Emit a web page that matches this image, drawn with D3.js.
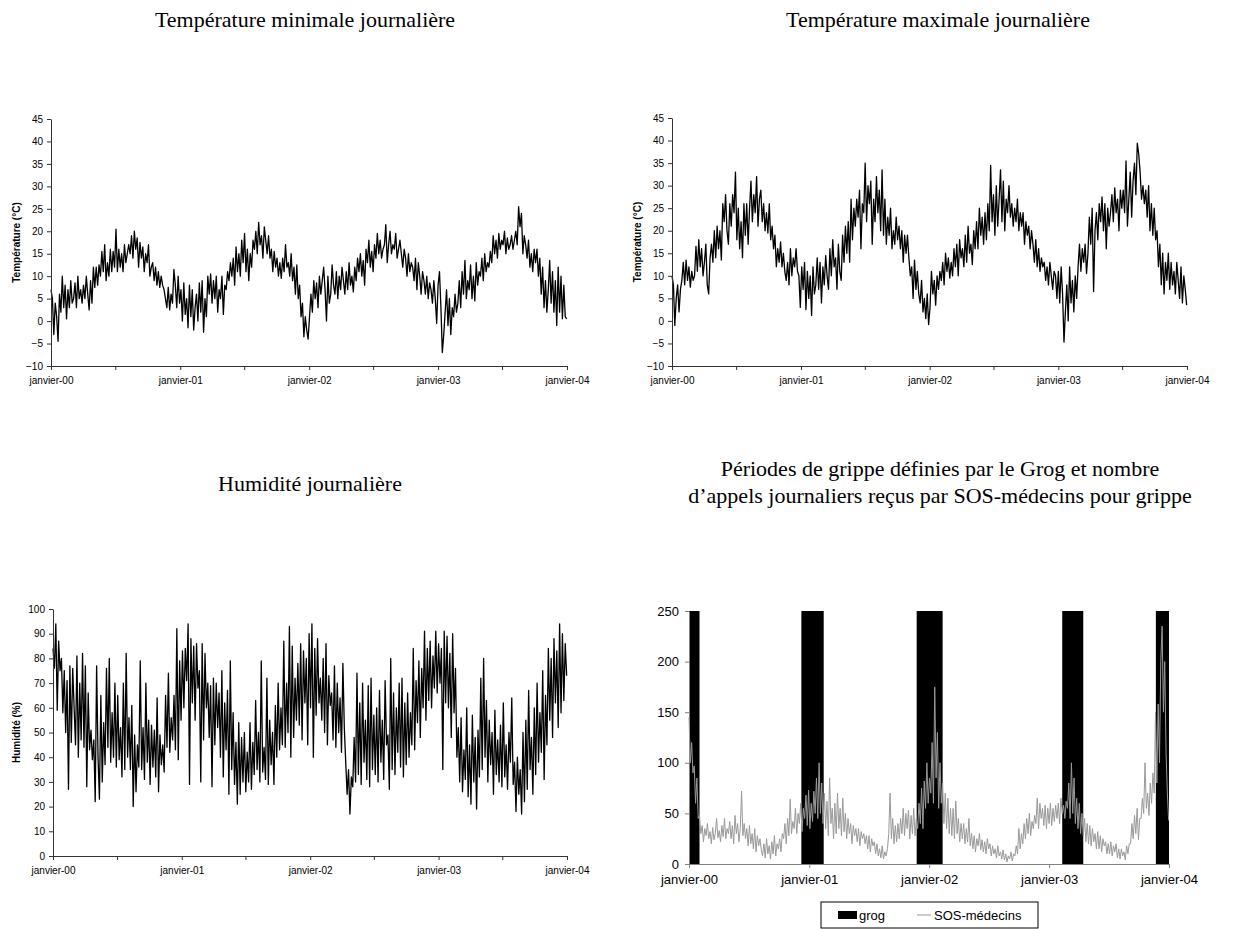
<!DOCTYPE html>
<html><head><meta charset="utf-8">
<script src="https://cdn.jsdelivr.net/npm/d3@7"></script>
<style>body{margin:0;background:#fff}svg{display:block}</style>
</head><body>
<svg id="c" width="1251" height="929"></svg>
<script>
// ---------- DATA (one value every 4 days, from 1 Jan 2000) ----------
const startDate = new Date(2000, 0, 1);
const endDate = new Date(2004, 0, 1);
const stepDays = 4;

const tmin = [
7,5,-3,4,1,-4.5,6,2, 10,3,8,0.5,7,3,9,4, 5,8.5,3,10,5,7,4,8, 5,10,6,2.5,9,4,12,7.5,
12,8,12.5,10,15.5,11,17,9, 13,10,16,11,15.5,12,20.5,11, 16,12,15,11,17,13,15,17, 15,19,14,20,16,18.5,12,17.5,
14,16.5,11,15,13,17,10,12, 13,9,12,8,11,7.5,10,8, 7,5,3,7.5,2.5,6,4,11.5, 8,3,10,4,7,0,8.5,1.5,
5,-1.5,8,1,7,-2,3,6, 0,8.5,2,9,-2.5,5,1,10, 6,10.5,4,9,5,10,2,7, 5,10,1.5,8,7,11,9,13,
10,14,8,16.5,11,15,10,18, 13,19.5,11,16,9,15,12,18, 16,20,15,22,17,19,14,21, 18,15,19,14,16,11,15.5,12,
14,10,13,9.5,14,11,17,12, 13,10,15,9,12,6,12.5,5, 8,1,4,-3.5,1,-2,-4,1, 6,2,9,5,8.5,3,10,6,
9,12,7,0,10,4,6,12.5, 8,6,11,5,10,7,12,9, 6,11,7,13,8,10,6.5,12, 9,14,11,15,10,13.5,8,16,
13,18,12,15.5,11,17,14,19.5, 15,18,14,16,17,21.5,13,17, 20,15,17,16,19.5,14,16,18, 15,12,16,14,10,15,11,13,
12,9,14,7,13,10,6,11, 9,6,10,5,8.5,7,4,9, 5,-0.5,8,11,3,-7,-3,2, 7,-1,5,-3,3,1,6,2,
4,9,3,11,6,13.5,5,9, 7,12.5,5,10,4.5,13,8,11, 10,14,9,15,11,13,12,15.5, 13,19,15,18,14,19.5,16,18,
17,20,15,18.5,16,17,19,16, 18,20,17,25.5,21,24,15,19, 17,14,18,12,15,11,16,13, 16,10,14,6,12,3,9,2,
7,13.5,4,11,2,9,-1,12, 2,10,0.5,8,1,0.5
];

const tmax = [
10,8,-1,5,8,2,7,9, 13,8,13.5,9,12,7.5,11,9, 10,16.5,11,18,12,16,10,13, 17,8,6,14,17,13,20,14,
21,16,20,13.5,26,22,28,20, 17,26,21,28,24,33,18,25, 16,22,14,26,19,26,17,25, 31,22,28,24,32,21,27,29,
22,26,20,24,19.5,26,18,21, 16,19,12,16,13,17.5,12,15, 11,9,13,8,16,10,14,12, 16,11,10,3,12,7,13,2.5,
11,5,10,1.2,12,6,8,14, 7,13,4,12,8,14.5,10,7, 16,10,18,12,14,7,17,11, 9,19,13,21,15,22,13,27,
18,25,21,27,23,29,16,26, 24,35,22,30,26,31,17,27, 22,32,24,29,20,33.5,19,27, 17,23,19,25,16,20,17,23,
18,21,16,20,13,19,15,19, 14,10,12,5,13.5,7,11,6, 4,9,2,5,0.5,6,-0.8,3, 11,6,9,3.5,10,7,11,9,
13,8,15,11,14,9.5,13,10, 16,12,17,10,18,14,16,12, 19,13,21,15,17,12.5,20,16, 22,16,25,19,23,17,24,18,
26,20,34.5,22,28,19,30,21, 27,33.5,22,31,20,27,24,30, 23,26,21,25,22,27,20,24, 21,24,17,22,19,21,16,20,
17,13,18,12,16,11,14,12, 13,9,12,8,13,10,7,11, 10,5,11,4,12,6,-4.7,2, 8,0,12,4,9,2,10,5,
12,17,11,16,13,17,10.5,15, 23,17,25,6.5,20,24,18,26, 22,27.5,20,26,16,25,21,24, 28,22,29.5,24,27,20,29,25,
29,24,35.5,21,27,33,23,31, 35,28,39.4,37,33,27,30,26, 29,23,30,20,26,19,25,18, 20,12,17,8,15,6,13,9,
15,7,13,8,11,6,13,9, 5,12,4,10,7,3.5
];

const humidity = [
84,76,94,59,87,75,80,58, 75,50,71,27,77,46,76,60, 45,81,40,70,47,82,44,77, 28,66,43,51,39,47,22,77,
40,23,65,30,54,37,76,44, 80,38,58,40,70,36,65,39, 52,32,70,35,82,40,56,35, 61,20,49,26,45,36,79,35,
52,31,70,38,55,29,53,36, 51,32,64,26,49,37,45,34, 65,44,74,42,56,47,65,43, 92,39,79,55,83,60,84,71,
94,29,88,62,85,55,86,68, 75,30,86,47,82,60,70,48, 69,28,72,45,70,52,66,40, 75,32,62,43,67,25,79,35,
58,29,46,21,54,25,48,30, 50,26,42,30,54,27,46,33, 63,35,50,30,79,34,44,31, 72,29,55,37,50,29,61,40,
70,43,60,45,87,44,70,50, 93,40,85,48,72,55,78,53, 86,47,83,62,80,45,90,60, 94,40,84,57,88,62,72,55,
80,50,86,45,73,61,66,47, 77,44,70,50,64,42,78,52, 38,25,35,17,32,28,48,30, 74,33,62,29,70,38,55,31,
69,28,72,35,57,33,60,30, 67,38,55,31,71,45,49,27, 80,35,66,33,60,42,70,36, 72,32,62,37,66,40,58,45,
84,43,71,54,79,48,76,60, 91,55,84,63,87,60,81,68, 91,66,86,70,84,35,91,62, 89,60,82,48,90,58,76,40,
52,30,56,26,43,31,60,24, 45,21,57,30,48,19,51,32, 72,35,80,40,63,30,55,37, 50,25,59,33,47,30,53,28,
62,32,45,27,50,38,64,29, 38,18,40,25,35,17,50,22, 55,27,67,35,48,25,60,33, 70,38,58,42,75,31,65,45,
84,55,80,48,88,62,83,52, 94,58,90,63,86,73
];

const sosCalls = [
145,100,120,90,97,60,85,45, 48,30,38,22,35,28,40,25, 32,20,36,24,30,45,26,33, 22,38,27,45,25,35,30,42,
25,38,20,48,30,40,22,35, 72,28,40,25,35,18,38,20, 30,15,35,12,28,18,25,14, 8,20,6,25,10,18,5,22,
10,28,8,20,15,25,12,30, 25,40,20,45,28,64,30,42, 35,55,30,50,40,60,32,55, 45,68,38,73,35,60,42,72,
50,85,45,100,50,80,40,70, 35,62,28,85,40,55,25,60, 30,70,35,55,28,65,32,50, 25,45,30,40,20,38,28,35,
22,35,18,32,25,30,20,28, 15,28,12,25,18,22,10,20, 8,15,6,18,5,12,8,15, 30,70,25,45,20,38,22,40,
25,45,30,55,28,50,35,53, 25,48,30,55,28,45,35,60, 40,75,35,82,55,100,60,85, 70,120,60,175,85,130,55,100,
60,80,40,70,35,65,30,55, 28,55,25,62,30,45,22,40, 25,40,20,35,22,45,18,30, 15,28,12,25,18,30,14,24,
12,22,10,25,15,20,8,18, 10,15,6,18,8,12,5,14, 4,10,2,8,5,12,3,10, 8,18,10,35,15,30,20,40,
25,45,30,50,28,42,35,48, 40,65,35,60,45,55,38,58, 35,55,40,60,38,55,42,58, 45,60,40,65,50,58,45,62,
55,80,45,100,50,85,40,65, 35,60,30,50,28,45,22,40, 20,38,18,35,22,30,15,32, 15,28,12,25,18,22,10,20,
10,22,8,18,12,20,6,15, 5,15,8,12,4,18,10,20, 20,40,25,48,30,55,24,45, 45,65,50,100,55,70,48,80,
60,90,70,150,80,158,100,200, 235,150,200,110,70,43
];

const grogStart = ["2000-01-01", "2000-12-08", "2001-11-24", "2003-02-10", "2003-11-22"];
const grogEnd   = ["2000-02-02", "2001-02-14", "2002-02-11", "2003-04-15", "2004-01-01"];

const tempTicks = [-10, -5, 0, 5, 10, 15, 20, 25, 30, 35, 40, 45];
const humTicks = [0, 10, 20, 30, 40, 50, 60, 70, 80, 90, 100];
const sosTicks = [0, 50, 100, 150, 200, 250];

const titles = ["Température minimale journalière", "Température maximale journalière", "Humidité journalière",
  "Périodes de grippe définies par le Grog et nombre", "d\u2019appels journaliers reçus par SOS-médecins pour grippe"];
const legendLabels = ["grog", "SOS-médecins"];

// ---------- DRAWING ----------
const svg = d3.select("#c");
const sans = "'Liberation Sans', Arial, sans-serif";
const serif = "'Liberation Serif', 'Times New Roman', serif";
const parse = d3.timeParse("%Y-%m-%d");
const dateAt = i => d3.timeDay.offset(startDate, i * stepDays);
const janFmt = d => "janvier-" + d3.timeFormat("%y")(d);

function styleAxis(g, color, fs) {
  g.select(".domain").attr("stroke", color).attr("stroke-width", 1);
  g.selectAll(".tick line").attr("stroke", color);
  g.selectAll(".tick text").attr("fill", "#000").style("font-family", sans).style("font-size", fs + "px");
}

function linePanel(cfg) {
  const x = d3.scaleTime().domain([startDate, endDate]).range([cfg.x0, cfg.x1]);
  const y = d3.scaleLinear().domain(cfg.domain).range([cfg.yb, cfg.yt]);
  const g = svg.append("g");
  const line = d3.line().x((d, i) => x(dateAt(i))).y(d => y(d));
  g.append("path").datum(cfg.values).attr("d", line)
    .attr("fill", "none").attr("stroke", "#000").attr("stroke-width", 1.3).attr("stroke-linejoin", "round");
  const xa = g.append("g").attr("transform", `translate(0,${cfg.yb})`)
    .call(d3.axisBottom(x).ticks(d3.timeMonth.every(6)).tickSize(4).tickSizeOuter(0).tickPadding(7)
      .tickFormat(d => d.getMonth() === 0 ? janFmt(d) : ""));
  styleAxis(xa, "#333", 10);
  const ya = g.append("g").attr("transform", `translate(${cfg.x0},0)`)
    .call(d3.axisLeft(y).tickValues(cfg.ticks).tickSize(4).tickSizeOuter(0).tickPadding(4));
  styleAxis(ya, "#333", 10);
  g.append("text").attr("transform", `translate(${cfg.lx},${(cfg.yt + cfg.yb) / 2}) rotate(-90)`)
    .attr("text-anchor", "middle").style("font-family", sans).style("font-size", "10px")
    .style("font-weight", "bold").text(cfg.ylabel);
  g.append("text").attr("x", cfg.tx).attr("y", cfg.ty).attr("text-anchor", "middle")
    .style("font-family", serif).style("font-size", "22px").text(cfg.title);
}

linePanel({x0: 51, x1: 567, yt: 119, yb: 366, domain: [-10, 45], ticks: tempTicks, values: tmin,
  ylabel: "Température (°C)", lx: 20, title: titles[0], tx: 305, ty: 27});
linePanel({x0: 672, x1: 1187, yt: 118, yb: 366, domain: [-10, 45], ticks: tempTicks, values: tmax,
  ylabel: "Température (°C)", lx: 641, title: titles[1], tx: 938, ty: 27});
linePanel({x0: 53, x1: 567, yt: 609, yb: 856, domain: [0, 100], ticks: humTicks, values: humidity,
  ylabel: "Humidité (%)", lx: 20, title: titles[2], tx: 310, ty: 491});

// Panel D: grog periods + SOS-médecins calls
(function () {
  const x0 = 689, x1 = 1169, yt = 611, yb = 864;
  const x = d3.scaleTime().domain([startDate, endDate]).range([x0, x1]);
  const y = d3.scaleLinear().domain([0, 250]).range([yb, yt]);
  const g = svg.append("g");
  const periods = grogStart.map((s, i) => ({s: parse(s), e: parse(grogEnd[i])}));
  g.selectAll("rect.grog").data(periods).join("rect").attr("class", "grog")
    .attr("x", d => x(d.s)).attr("width", d => x(d.e) - x(d.s))
    .attr("y", y(250)).attr("height", y(0) - y(250)).attr("fill", "#000");
  const xa = g.append("g").attr("transform", `translate(0,${yb})`)
    .call(d3.axisBottom(x).ticks(d3.timeYear.every(1)).tickSize(4).tickSizeOuter(0).tickPadding(7).tickFormat(janFmt));
  styleAxis(xa, "#808080", 13);
  const ya = g.append("g").attr("transform", `translate(${x0},0)`)
    .call(d3.axisLeft(y).tickValues(sosTicks).tickSize(4).tickSizeOuter(0).tickPadding(6));
  styleAxis(ya, "#808080", 13);
  const line = d3.line().x((d, i) => x(dateAt(i))).y(d => y(d));
  g.append("path").datum(sosCalls).attr("d", line)
    .attr("fill", "none").attr("stroke", "#999").attr("stroke-width", 1);
  g.append("text").attr("x", 940).attr("y", 476).attr("text-anchor", "middle")
    .style("font-family", serif).style("font-size", "22px").text(titles[3]);
  g.append("text").attr("x", 940).attr("y", 503).attr("text-anchor", "middle")
    .style("font-family", serif).style("font-size", "22px").text(titles[4]);
  // legend
  const lg = svg.append("g");
  lg.append("rect").attr("x", 821).attr("y", 902).attr("width", 217).attr("height", 26)
    .attr("fill", "#fff").attr("stroke", "#000");
  lg.append("rect").attr("x", 838).attr("y", 911).attr("width", 19).attr("height", 8).attr("fill", "#000");
  lg.append("text").attr("x", 859).attr("y", 920).style("font-family", sans).style("font-size", "13px").text(legendLabels[0]);
  lg.append("line").attr("x1", 917).attr("x2", 931).attr("y1", 915).attr("y2", 915).attr("stroke", "#999");
  lg.append("text").attr("x", 934).attr("y", 920).style("font-family", sans).style("font-size", "13px").text(legendLabels[1]);
})();
</script>
</body></html>
